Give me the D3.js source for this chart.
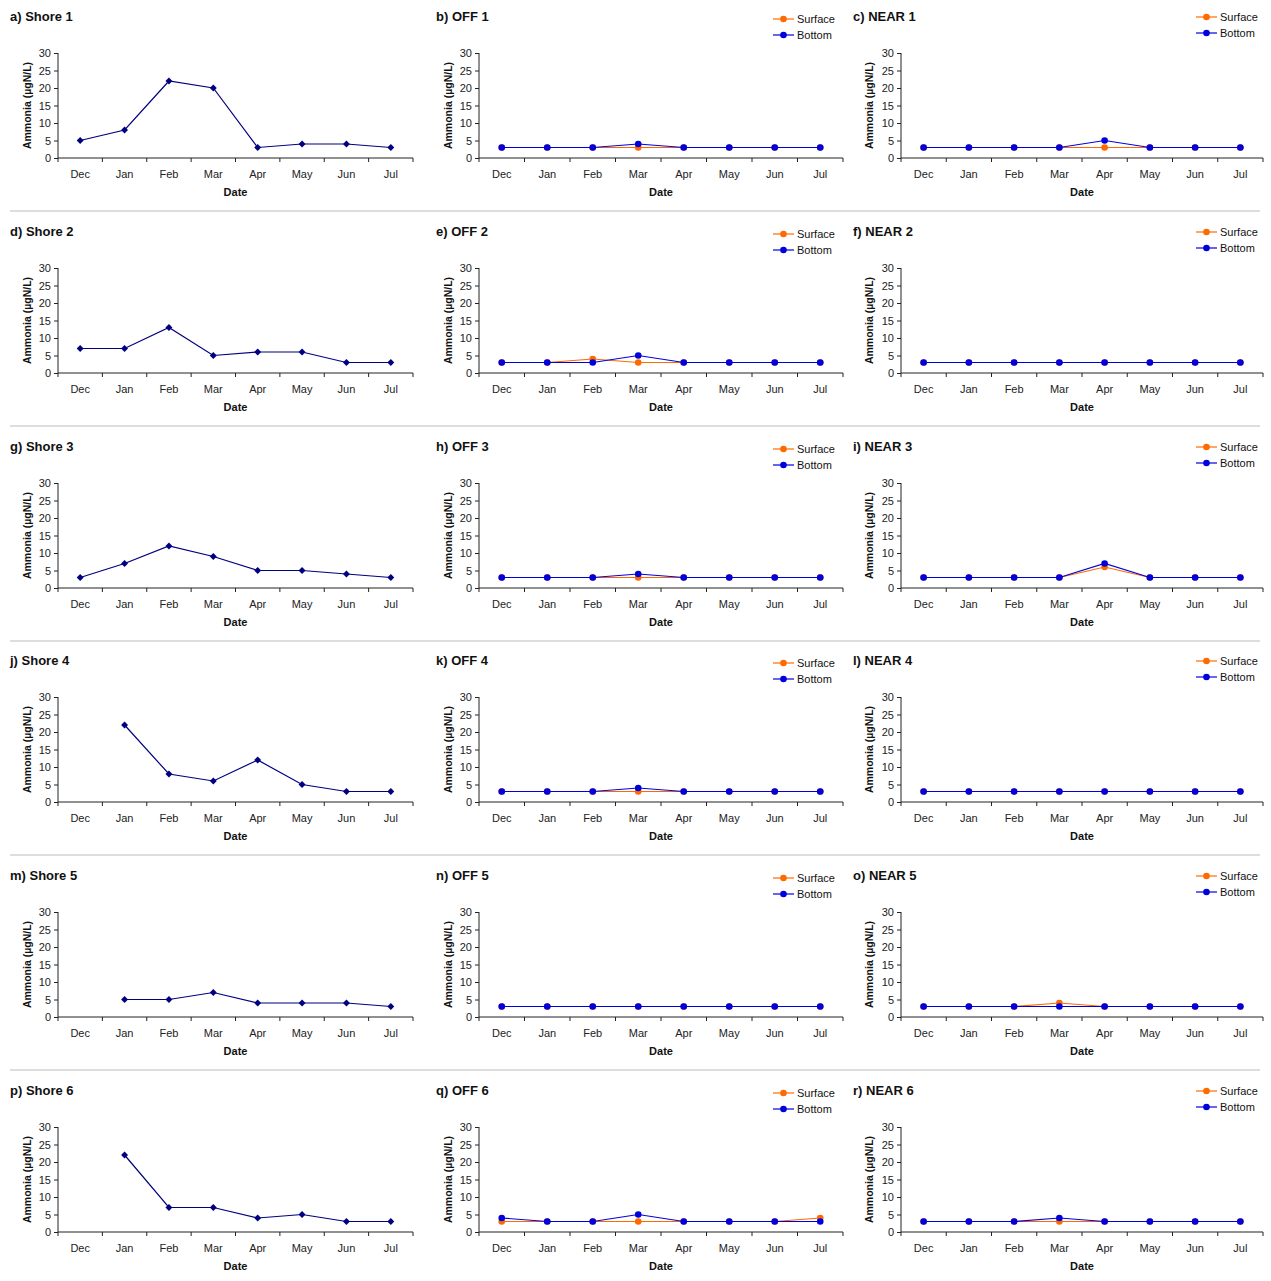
<!DOCTYPE html>
<html>
<head>
<meta charset="utf-8">
<script src="https://cdn.jsdelivr.net/npm/d3@7"></script>
<style>
  html, body { margin: 0; padding: 0; background: #fff; }
  svg { display: block; font-family: "Liberation Sans", Arial, sans-serif; }
  .tick text { font-size: 11px; fill: #222; }
  .domain, .tick line { stroke: #222; }
</style>
</head>
<body>
<div id="chart"></div>
<script>
// ── Data ────────────────────────────────────────────────────────────────
const months = ['Dec', 'Jan', 'Feb', 'Mar', 'Apr', 'May', 'Jun', 'Jul'];
const yTicks = [0, 5, 10, 15, 20, 25, 30];

const shore1 = [5, 8, 22, 20, 3, 4, 4, 3];
const shore2 = [7, 7, 13, 5, 6, 6, 3, 3];
const shore3 = [3, 7, 12, 9, 5, 5, 4, 3];
const shore4 = [null, 22, 8, 6, 12, 5, 3, 3];
const shore5 = [null, 5, 5, 7, 4, 4, 4, 3];
const shore6 = [null, 22, 7, 7, 4, 5, 3, 3];

const off1Surface  = [3, 3, 3, 3, 3, 3, 3, 3];
const off1Bottom   = [3, 3, 3, 4, 3, 3, 3, 3];
const near1Surface = [3, 3, 3, 3, 3, 3, 3, 3];
const near1Bottom  = [3, 3, 3, 3, 5, 3, 3, 3];
const off2Surface  = [3, 3, 4, 3, 3, 3, 3, 3];
const off2Bottom   = [3, 3, 3, 5, 3, 3, 3, 3];
const near2Surface = [3, 3, 3, 3, 3, 3, 3, 3];
const near2Bottom  = [3, 3, 3, 3, 3, 3, 3, 3];
const off3Surface  = [3, 3, 3, 3, 3, 3, 3, 3];
const off3Bottom   = [3, 3, 3, 4, 3, 3, 3, 3];
const near3Surface = [3, 3, 3, 3, 6, 3, 3, 3];
const near3Bottom  = [3, 3, 3, 3, 7, 3, 3, 3];
const off4Surface  = [3, 3, 3, 3, 3, 3, 3, 3];
const off4Bottom   = [3, 3, 3, 4, 3, 3, 3, 3];
const near4Surface = [3, 3, 3, 3, 3, 3, 3, 3];
const near4Bottom  = [3, 3, 3, 3, 3, 3, 3, 3];
const off5Surface  = [3, 3, 3, 3, 3, 3, 3, 3];
const off5Bottom   = [3, 3, 3, 3, 3, 3, 3, 3];
const near5Surface = [3, 3, 3, 4, 3, 3, 3, 3];
const near5Bottom  = [3, 3, 3, 3, 3, 3, 3, 3];
const off6Surface  = [3, 3, 3, 3, 3, 3, 3, 4];
const off6Bottom   = [4, 3, 3, 5, 3, 3, 3, 3];
const near6Surface = [3, 3, 3, 3, 3, 3, 3, 3];
const near6Bottom  = [3, 3, 3, 4, 3, 3, 3, 3];

const titles = [
  ['a) Shore 1', 'b) OFF 1', 'c) NEAR 1'],
  ['d) Shore 2', 'e) OFF 2', 'f) NEAR 2'],
  ['g) Shore 3', 'h) OFF 3', 'i) NEAR 3'],
  ['j) Shore 4', 'k) OFF 4', 'l) NEAR 4'],
  ['m) Shore 5', 'n) OFF 5', 'o) NEAR 5'],
  ['p) Shore 6', 'q) OFF 6', 'r) NEAR 6'],
];

const shoreSeries = [shore1, shore2, shore3, shore4, shore5, shore6];
const offSeries = [
  [off1Surface, off1Bottom], [off2Surface, off2Bottom], [off3Surface, off3Bottom],
  [off4Surface, off4Bottom], [off5Surface, off5Bottom], [off6Surface, off6Bottom],
];
const nearSeries = [
  [near1Surface, near1Bottom], [near2Surface, near2Bottom], [near3Surface, near3Bottom],
  [near4Surface, near4Bottom], [near5Surface, near5Bottom], [near6Surface, near6Bottom],
];

// ── Layout ──────────────────────────────────────────────────────────────
const W = 1271, H = 1281;
const rowTop = [53, 268, 483, 697, 912, 1127];   // y of the "30" tick
const plotH = 105;
const cols = [
  { x0: 58,  x1: 413,  titleX: 10,  labelX: 27,  legX: null, legDy: 0 },
  { x0: 479, x1: 843,  titleX: 436, labelX: 448, legX: 773,  legDy: -34 },
  { x0: 901, x1: 1263, titleX: 853, labelX: 869, legX: 1196, legDy: -36 },
];
const NAVY = '#000080', ORANGE = '#ff6a00', BLUE = '#0000dd';

const svg = d3.select('#chart').append('svg')
  .attr('width', W).attr('height', H);

// separators between rows
rowTop.slice(0, 5).forEach(t => {
  svg.append('line')
    .attr('x1', 10).attr('x2', 1260)
    .attr('y1', t + 158).attr('y2', t + 158)
    .attr('stroke', '#bbb').attr('stroke-width', 1);
});

rowTop.forEach((top, ri) => {
  cols.forEach((c, ci) => {
    const g = svg.append('g');
    const x = d3.scaleBand().domain(months).range([c.x0, c.x1]).padding(0);
    const y = d3.scaleLinear().domain([0, 30]).range([top + plotH, top]);

    // title
    g.append('text')
      .attr('x', c.titleX).attr('y', top - 32)
      .attr('font-size', 13).attr('font-weight', 'bold').attr('fill', '#111')
      .text(titles[ri][ci]);

    // y axis
    g.append('g')
      .attr('transform', `translate(${c.x0},0)`)
      .call(d3.axisLeft(y).tickValues(yTicks).tickSize(4).tickPadding(3))
      .call(a => a.select('.domain').attr('d', `M0,${top}V${top + plotH}`));

    // x axis: ticks at category boundaries
    const xa = g.append('g').attr('transform', `translate(0,${top + plotH})`);
    xa.append('line')
      .attr('x1', c.x0).attr('x2', c.x1)
      .attr('stroke', '#222');
    months.concat(['_end']).forEach(m => {
      const px = m === '_end' ? c.x1 : x(m);
      xa.append('line')
        .attr('x1', px).attr('x2', px).attr('y1', 0).attr('y2', 4)
        .attr('stroke', '#222');
    });
    months.forEach(m => {
      xa.append('text')
        .attr('x', x(m) + x.bandwidth() / 2).attr('y', 20)
        .attr('text-anchor', 'middle').attr('font-size', 11).attr('fill', '#222')
        .text(m);
    });
    g.append('text')
      .attr('x', (c.x0 + c.x1) / 2).attr('y', top + plotH + 38)
      .attr('text-anchor', 'middle').attr('font-size', 11)
      .attr('font-weight', 'bold').attr('fill', '#111')
      .text('Date');

    // y label
    g.append('text')
      .attr('transform', `translate(${c.labelX},${top + plotH / 2}) rotate(-90)`)
      .attr('text-anchor', 'middle').attr('dy', '0.35em')
      .attr('font-size', 10.5).attr('font-weight', 'bold').attr('fill', '#111')
      .text('Ammonia (µgN/L)');

    const cx = m => x(m) + x.bandwidth() / 2;
    const line = d3.line()
      .defined(d => d.v != null)
      .x(d => cx(d.m)).y(d => y(d.v));

    if (ci === 0) {
      const pts = shoreSeries[ri].map((v, i) => ({ m: months[i], v }));
      g.append('path').datum(pts)
        .attr('d', line).attr('fill', 'none')
        .attr('stroke', NAVY).attr('stroke-width', 1.2);
      g.selectAll('.dia').data(pts.filter(d => d.v != null)).enter()
        .append('path')
        .attr('d', d3.symbol(d3.symbolSquare, 24))
        .attr('transform', d => `translate(${cx(d.m)},${y(d.v)}) rotate(45)`)
        .attr('fill', NAVY);
    } else {
      const pair = ci === 1 ? offSeries[ri] : nearSeries[ri];
      [[pair[0], ORANGE], [pair[1], BLUE]].forEach(([vals, col]) => {
        const pts = vals.map((v, i) => ({ m: months[i], v }));
        g.append('path').datum(pts)
          .attr('d', line).attr('fill', 'none')
          .attr('stroke', col).attr('stroke-width', 1.2);
        g.selectAll(null).data(pts).enter()
          .append('circle')
          .attr('cx', d => cx(d.m)).attr('cy', d => y(d.v))
          .attr('r', 3.3).attr('fill', col);
      });

      // legend
      [['Surface', ORANGE], ['Bottom', BLUE]].forEach(([name, col], li) => {
        const ly = top + c.legDy + li * 16;
        g.append('line')
          .attr('x1', c.legX).attr('x2', c.legX + 21)
          .attr('y1', ly).attr('y2', ly)
          .attr('stroke', col).attr('stroke-width', 1.2);
        g.append('circle')
          .attr('cx', c.legX + 10.5).attr('cy', ly).attr('r', 3.3).attr('fill', col);
        g.append('text')
          .attr('x', c.legX + 24).attr('y', ly).attr('dy', '0.35em')
          .attr('font-size', 11).attr('fill', '#111')
          .text(name);
      });
    }
  });
});
</script>
</body>
</html>
